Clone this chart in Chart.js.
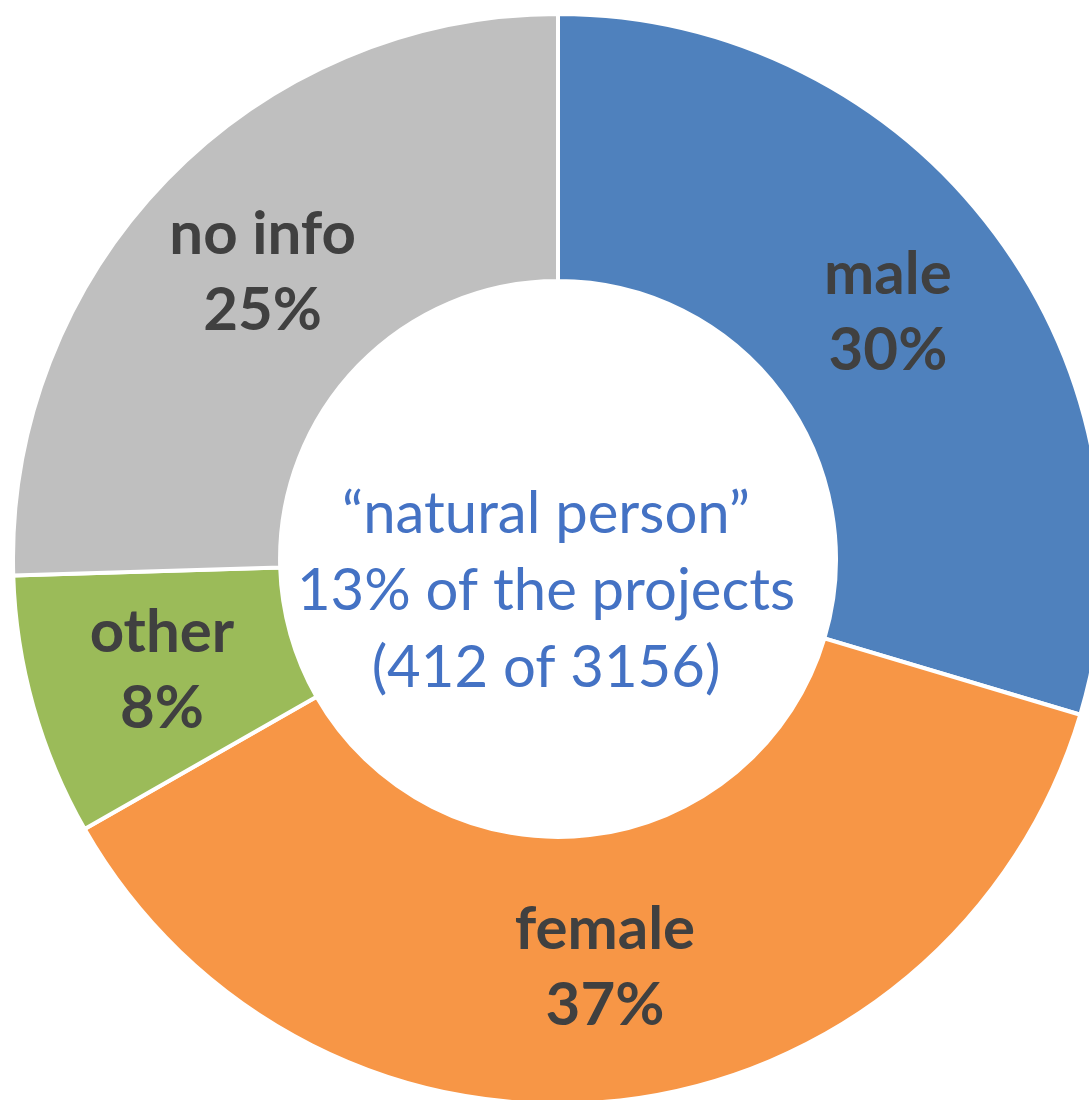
<!DOCTYPE html>
<html>
<head>
<meta charset="utf-8">
<script src="https://cdn.jsdelivr.net/npm/chart.js@4"></script>
<style>
  html, body { margin: 0; padding: 0; background: #fff; overflow: hidden; width: 1089px; height: 1100px; }
  #wrap { position: absolute; left: 11px; top: 12px; width: 1094px; height: 1094px; }
</style>
</head>
<body>
<div id="wrap"><canvas id="myChart"></canvas></div>
<script>
const categories = ['male', 'female', 'other', 'no info'];
const counts = [122, 153, 32, 105];
const colors = ['#4F81BD', '#F79646', '#9BBB59', '#BFBFBF'];
const centerLines = ['\u201Cnatural person\u201D', '13% of the projects', '(412 of 3156)'];

const total = counts.reduce((a, b) => a + b, 0);

const sliceLabels = {
  id: 'sliceLabels',
  afterDatasetsDraw(chart) {
    const ctx = chart.ctx;
    const meta = chart.getDatasetMeta(0);
    ctx.save();
    ctx.fillStyle = '#404040';
    ctx.font = 'bold 60px Lato';
    ctx.textAlign = 'center';
    ctx.textBaseline = 'middle';
    meta.data.forEach((arc, i) => {
      const p = arc.tooltipPosition();
      const pct = Math.round(counts[i] / total * 100) + '%';
      ctx.fillText(categories[i], p.x, p.y - 38);
      ctx.fillText(pct, p.x, p.y + 38);
    });
    // text in the hole, sits a little left of centre in the original
    const a = meta.data[0];
    ctx.fillStyle = '#4472C4';
    ctx.font = '58px Lato';
    ctx.textBaseline = 'alphabetic';
    centerLines.forEach((t, k) => {
      ctx.fillText(t, a.x - 12, a.y + 51 + (k - 1) * 77);
    });
    ctx.restore();
  }
};

new Chart(document.getElementById('myChart'), {
  type: 'doughnut',
  data: {
    labels: categories,
    datasets: [{
      data: counts,
      backgroundColor: colors,
      borderColor: '#ffffff',
      borderWidth: 4
    }]
  },
  options: {
    responsive: true,
    maintainAspectRatio: false,
    animation: false,
    cutout: '51%',
    plugins: {
      legend: { display: false },
      tooltip: { enabled: false }
    }
  },
  plugins: [sliceLabels]
});
</script>
</body>
</html>
